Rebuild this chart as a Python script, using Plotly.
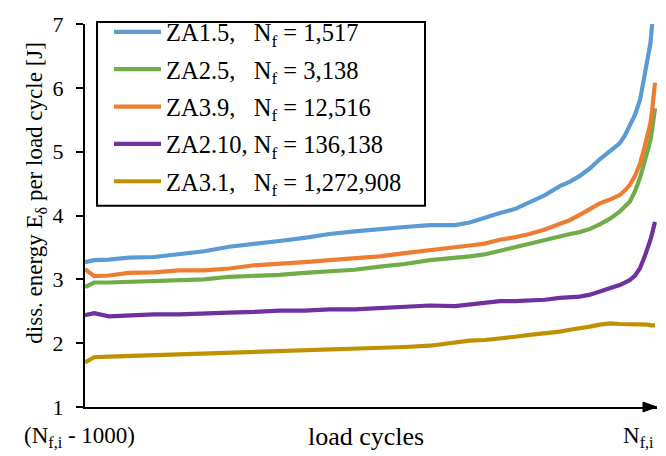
import plotly.graph_objects as go

# ---- data ----
cycles = [0, 16, 42, 77, 121, 165, 209, 253, 297, 341, 385, 429, 473, 517, 561, 605,
          649, 675, 701, 728, 754, 780, 807, 833, 851, 868, 886, 903, 921, 938, 947,
          956, 965, 974, 982, 988, 992, 995, 1000]

za1_5 = [3.27, 3.30, 3.31, 3.34, 3.35, 3.39, 3.44, 3.51, 3.55, 3.60, 3.65, 3.71, 3.75, 3.79,
         3.82, 3.85, 3.85, 3.89, 3.97, 4.04, 4.10, 4.20, 4.32, 4.46, 4.53, 4.62, 4.74, 4.88,
         5.00, 5.13, 5.25, 5.40, 5.58, 5.82, 6.18, 6.45, 6.70, 7.00]
za2_5 = [2.88, 2.95, 2.95, 2.96, 2.98, 2.99, 3.00, 3.04, 3.05, 3.07, 3.10, 3.13, 3.15, 3.20,
         3.24, 3.30, 3.33, 3.36, 3.39, 3.45, 3.50, 3.55, 3.62, 3.68, 3.71, 3.74, 3.79, 3.86,
         3.95, 4.06, 4.13, 4.22, 4.38, 4.60, 4.85, 5.02, 5.18, 5.35, 5.68]
za3_9 = [3.16, 3.05, 3.06, 3.10, 3.11, 3.14, 3.14, 3.17, 3.22, 3.24, 3.27, 3.30, 3.33, 3.36,
         3.41, 3.45, 3.50, 3.53, 3.56, 3.62, 3.66, 3.71, 3.78, 3.86, 3.93, 4.01, 4.10, 4.19,
         4.25, 4.32, 4.39, 4.48, 4.62, 4.82, 5.08, 5.28, 5.45, 5.65, 6.08]
za2_10 = [2.44, 2.47, 2.42, 2.44, 2.45, 2.45, 2.47, 2.48, 2.49, 2.51, 2.51, 2.53, 2.53, 2.55,
          2.56, 2.59, 2.58, 2.61, 2.63, 2.66, 2.66, 2.67, 2.68, 2.71, 2.72, 2.73, 2.76, 2.81,
          2.85, 2.91, 2.95, 2.99, 3.06, 3.18, 3.36, 3.50, 3.62, 3.72, 3.90]
za3_1 = [1.70, 1.78, 1.79, 1.80, 1.82, 1.82, 1.84, 1.85, 1.86, 1.87, 1.88, 1.90, 1.91, 1.93,
         1.94, 1.96, 2.01, 2.04, 2.05, 2.07, 2.10, 2.13, 2.15, 2.18, 2.21, 2.23, 2.26, 2.29,
         2.31, 2.30, 2.30, 2.30, 2.29, 2.29, 2.30, 2.29, 2.28, 2.28, 2.28]

series_names = [
    "ZA1.5,\u00a0\u00a0\u00a0N<sub>f</sub> = 1,517",
    "ZA2.5,\u00a0\u00a0\u00a0N<sub>f</sub> = 3,138",
    "ZA3.9,\u00a0\u00a0\u00a0N<sub>f</sub> = 12,516",
    "ZA2.10, N<sub>f</sub> = 136,138",
    "ZA3.1,\u00a0\u00a0\u00a0N<sub>f</sub> = 1,272,908",
]
series_values = [za1_5, za2_5, za3_9, za2_10, za3_1]
series_colors = ["#5B9BD5", "#70AD47", "#ED7D31", "#7030A0", "#BF9000"]

y_ticks = [1, 2, 3, 4, 5, 6, 7]
x_tick_vals = [0, 1000]
x_tick_text = ["(N<sub>f,i</sub> - 1000)", "N<sub>f,i</sub>"]
x_title = "load cycles"
y_title = "diss. energy E<sub>δ</sub> per load cycle [J]"

FONT = "Liberation Serif"

fig = go.Figure()
for i, (name, vals, col) in enumerate(zip(series_names, series_values, series_colors)):
    fig.add_trace(go.Scatter(
        x=cycles[:len(vals)], y=vals, mode="lines", name=name,
        legendgroup=f"g{i}",
        line=dict(color=col, width=4.2),
    ))

fig.update_layout(
    width=666, height=456,
    margin=dict(l=85, r=9, t=15, b=49),
    paper_bgcolor="white", plot_bgcolor="white",
    font=dict(family=FONT, size=22, color="black"),
    showlegend=True,
    legend=dict(
        x=0.021, y=1.038, xanchor="left", yanchor="top",
        bgcolor="rgba(0,0,0,0)", borderwidth=0,
        font=dict(family=FONT, size=24.5, color="black"),
        traceorder="grouped", tracegroupgap=2.5,
        indentation=12, itemwidth=47,
    ),
    xaxis=dict(
        range=[0, 1003.5], showgrid=False, zeroline=False,
        showline=True, linecolor="black", linewidth=2,
        ticks="", showticklabels=False,
    ),
    yaxis=dict(
        range=[1, 7], tickvals=y_ticks, showgrid=False, zeroline=False,
        showline=True, linecolor="black", linewidth=2,
        ticks="outside", ticklen=7, tickwidth=2, tickcolor="black",
        ticklabelstandoff=8,
        tickfont=dict(family=FONT, size=22, color="black"),
    ),
)

# legend frame
fig.add_shape(type="rect", xref="paper", yref="paper",
              x0=0.021, x1=0.5944, y0=0.5255, y1=1.0051,
              line=dict(color="black", width=2), fillcolor="white", layer="below")

# x tick labels and axis title (placed at the reference positions)
shifts = [-6, -17]
for xv, txt, sh in zip(x_tick_vals, x_tick_text, shifts):
    fig.add_annotation(x=xv, y=0, xref="x", yref="paper", text=txt, showarrow=False,
                       xanchor="center", yanchor="middle", xshift=sh, yshift=-30,
                       font=dict(family=FONT, size=23, color="black"))
fig.add_annotation(x=0.491, y=0, xref="paper", yref="paper", text=x_title, showarrow=False,
                   xanchor="center", yanchor="middle", yshift=-29,
                   font=dict(family=FONT, size=26, color="black"))
fig.add_annotation(x=-0.086, y=0.559, xref="paper", yref="paper", text=y_title,
                   showarrow=False, textangle=-90, xanchor="center", yanchor="middle",
                   font=dict(family=FONT, size=23, color="black"))

# arrow head at the end of the x axis
fig.add_shape(type="path", xref="paper", yref="paper",
              path="M 0.9755,0.0128 L 1.0,0 L 0.9755,-0.0128 Z",
              fillcolor="black", line=dict(color="black", width=1))

fig.write_html("out.html")
